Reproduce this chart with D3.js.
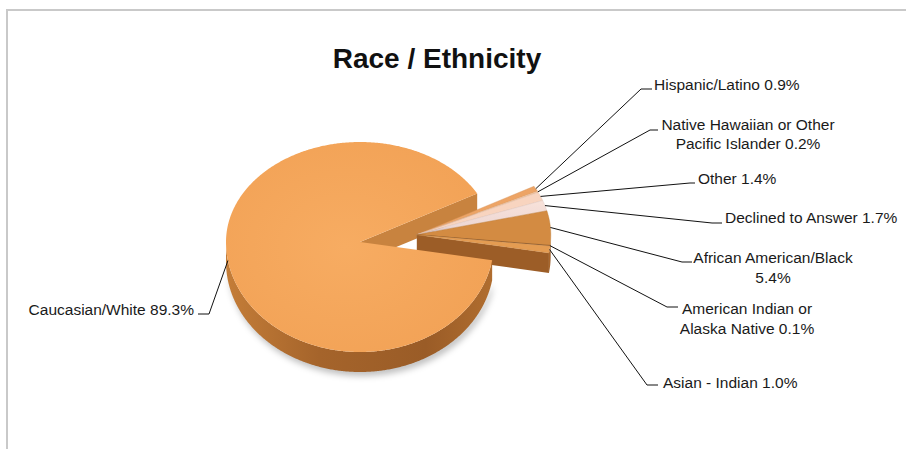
<!DOCTYPE html>
<html><head><meta charset="utf-8">
<script src="https://cdn.jsdelivr.net/npm/d3@7"></script>
<style>body{margin:0;background:#fff} svg text{font-family:"Liberation Sans",Arial,sans-serif}</style>
</head><body><svg id="c" width="906" height="449"></svg>
<script>
// ---- data ----
const categories = ["Caucasian/White","Hispanic/Latino","Native Hawaiian or Other Pacific Islander","Other","Declined to Answer","African American/Black","American Indian or Alaska Native","Asian - Indian"];
const values = [89.3,0.9,0.2,1.4,1.7,5.4,0.1,1.0];
const labelTexts = [["Caucasian/White 89.3%"],["Hispanic/Latino 0.9%"],["Native Hawaiian or Other","Pacific Islander 0.2%"],["Other 1.4%"],["Declined to Answer 1.7%"],["African American/Black","5.4%"],["American Indian or","Alaska Native 0.1%"],["Asian - Indian 1.0%"]];
const exploded = [false,true,true,true,true,true,true,true];
const title = "Race / Ethnicity";

// ---- styles / layout ----
const topColors  = ["#f4a65b","#eda465","#f6c6a0","#f8d4bf","#f2dcd6","#d38b42","#7b4a1e","#e49c52"];
const sideColors = ["#a9672d","#b87a40","#c99a78","#cfa894","#c0a8a8","#a56630","#5a3414","#a8662c"];
const labelLayout = [
 {elbow:[209,314], end:[198,314], tx:194, ty:[315], anchor:"end"},
 {elbow:[641,89],  end:[652,89],  tx:654, ty:[89.5], anchor:"start"},
 {elbow:[650,130], end:[658,130], tx:748, ty:[129.5,148.5], anchor:"middle"},
 {elbow:[690,183], end:[695,183], tx:698, ty:[183.5], anchor:"start"},
 {elbow:[712,223], end:[722,223], tx:725, ty:[222.5], anchor:"start"},
 {elbow:[682,262], end:[692,262], tx:773, ty:[262.5,282.5], anchor:"middle"},
 {elbow:[667,307], end:[678,307], tx:747, ty:[313.5,333.5], anchor:"middle"},
 {elbow:[647,385], end:[658,385], tx:663, ty:[387.5], anchor:"start"}
];
const cx=360, cy=242, rx=134, ryUp=100, ryDn=110, depth=20;
const gapCenter = -9.74*Math.PI/180;   // screen angle of exploded group's centre
const explodeK = 0.43;

const svg = d3.select("#c");
const defs = svg.append("defs");
const f = defs.append("filter").attr("id","blur").attr("x","-20%").attr("y","-20%").attr("width","140%").attr("height","140%");
f.append("feGaussianBlur").attr("stdDeviation",3);
const g1 = defs.append("linearGradient").attr("id","sideG").attr("x1","0").attr("x2","1").attr("y1","0").attr("y2","0");
[[0,"#c47d38"],[0.35,"#a5642b"],[0.75,"#9a5c27"],[1,"#b06d2f"]].forEach(s=>g1.append("stop").attr("offset",s[0]).attr("stop-color",s[1]));
const g2 = defs.append("radialGradient").attr("id","topG").attr("cx","0.45").attr("cy","0.5").attr("r","0.6");
[[0,"#f7ac62"],[1,"#f2a256"]].forEach(s=>g2.append("stop").attr("offset",s[0]).attr("stop-color",s[1]));
const g3 = defs.append("linearGradient").attr("id","declG").attr("x1","0").attr("x2","0").attr("y1","0").attr("y2","1");
[[0,"#f8e2da"],[0.75,"#eed8d4"],[1,"#c9b9c8"]].forEach(s=>g3.append("stop").attr("offset",s[0]).attr("stop-color",s[1]));

// frame
svg.append("path").attr("d","M7,449V10H906").attr("fill","none").attr("stroke","#c9c9c9").attr("stroke-width",2);

// title
svg.append("text").attr("x",437).attr("y",68).attr("text-anchor","middle")
  .attr("font-size",28).attr("font-weight","bold").attr("fill","#111").text(title);

// pie angles
const total = d3.sum(values);
const smallTotal = total - values[0];
const gapHalf = Math.PI*smallTotal/total;
const mainStartScreen = gapCenter + gapHalf;
const pie = d3.pie().sort(null).value(d=>d)
  .startAngle(mainStartScreen + Math.PI/2).endAngle(mainStartScreen + Math.PI/2 + 2*Math.PI);
const arcs = pie(values).map((a,i)=>({i, t1:a.startAngle-Math.PI/2, t2:a.endAngle-Math.PI/2}));
const ox = explodeK*rx*Math.cos(gapCenter), oy = explodeK*ryUp*Math.sin(gapCenter);

function pt(t,dx,dy,dz){ const s=Math.sin(t); return [cx+dx+rx*Math.cos(t), cy+dy+(s<0?ryUp:ryDn)*s+dz]; }
function arcPts(t1,t2,dx,dy,dz){ const n=Math.max(2,Math.ceil(Math.abs(t2-t1)/(Math.PI/360))); return d3.range(n+1).map(k=>pt(t1+(t2-t1)*k/n,dx,dy,dz)); }
const line = d3.line();
function closed(pts){ return line(pts)+"Z"; }
function off(i){ return exploded[i]?[ox,oy]:[0,0]; }
function topPath(a){ const [dx,dy]=off(a.i); return closed([[cx+dx,cy+dy]].concat(arcPts(a.t1,a.t2,dx,dy,0))); }
function wallPaths(a){
  const [dx,dy]=off(a.i); const out=[];
  for(let k=-2;k<=2;k++){
    const lo=Math.max(a.t1,2*Math.PI*k), hi=Math.min(a.t2,2*Math.PI*k+Math.PI);
    if(hi>lo) out.push(closed(arcPts(lo,hi,dx,dy,0).concat(arcPts(hi,lo,dx,dy,depth))));
  }
  return out;
}
function radialPath(t,dx,dy){ const p=pt(t,dx,dy,0); return closed([[cx+dx,cy+dy],p,[p[0],p[1]+depth],[cx+dx,cy+dy+depth]]); }

// soft shadow only under the front wall
svg.append("path").attr("d",closed(arcPts(0.25,Math.PI,2,0,depth-6).concat(arcPts(Math.PI,0.25,2,0,depth+4))))
  .attr("fill","rgba(0,0,0,0.25)").attr("filter","url(#blur)");

const main = arcs[0];
const group = arcs.filter(a=>exploded[a.i]);
// main end radial wall (visible face toward the gap)
svg.append("path").attr("d",radialPath(main.t2,0,0)).attr("fill","#c8833f");
// exploded group: walls then tops
const gEnd = group[group.length-1];
svg.append("path").attr("d",radialPath(gEnd.t2,ox,oy)).attr("fill","#9c5d27");
group.forEach(a=>wallPaths(a).forEach(d=>svg.append("path").attr("d",d).attr("fill",sideColors[a.i])));
group.forEach(a=>svg.append("path").attr("d",topPath(a))
  .attr("fill", categories[a.i]==="Declined to Answer" ? "url(#declG)" : topColors[a.i])
  .attr("stroke",d3.color(topColors[a.i]).darker(0.3)).attr("stroke-width",0.4));
// main walls and top
wallPaths(main).forEach(d=>svg.append("path").attr("d",d).attr("fill","url(#sideG)"));
svg.append("path").attr("d",topPath(main)).attr("fill","url(#topG)");

// leader lines & labels
arcs.forEach(a=>{
  const [dx,dy]=off(a.i); const m=(a.t1+a.t2)/2; const s=pt(m,dx,dy,0);
  const L=labelLayout[a.i];
  svg.append("path").attr("d",line([s,L.elbow,L.end])).attr("fill","none").attr("stroke","#111").attr("stroke-width",1);
  const t=svg.append("text").attr("font-size",15.5).attr("fill","#1a1a1a").attr("text-anchor",L.anchor);
  labelTexts[a.i].forEach((s,j)=>t.append("tspan").attr("x",L.tx).attr("y",L.ty[j]).text(s));
});
</script></body></html>
